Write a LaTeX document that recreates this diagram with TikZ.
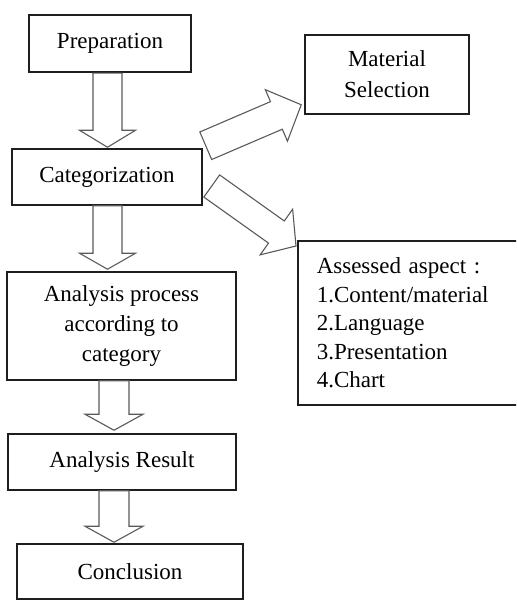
\documentclass[tikz,border=0pt]{standalone}
\usepackage{fontspec}
\setmainfont{Liberation Serif}
\usetikzlibrary{calc}
\definecolor{arrowgray}{HTML}{5A5A5A}
\definecolor{boxline}{HTML}{1E1E1E}
\tikzset{
  box/.style={draw=boxline, line width=0.75pt, fill=white, inner sep=0pt, align=center,
    font=\fontsize{11.5pt}{15pt}\selectfont},
  barrow/.style={draw=arrowgray, line width=0.55pt, fill=white, line join=miter},
}
% block arrow: #1 tail, #2 tip, #3 shaft half width, #4 head half width, #5 head length
\newcommand\blockarrow[5]{%
  \draw[barrow] let \p1=(#1), \p2=(#2),
      \n1={atan2(\y2-\y1,\x2-\x1)}, \n2={veclen(\x2-\x1,\y2-\y1)} in
    ($(\p1)+({\n1+90}:#3)$)
    -- ($(\p1)+({\n1}:{\n2*1pt-#5})+({\n1+90}:#3)$)
    -- ($(\p1)+({\n1}:{\n2*1pt-#5})+({\n1+90}:#4)$)
    -- (\p2)
    -- ($(\p1)+({\n1}:{\n2*1pt-#5})+({\n1-90}:#4)$)
    -- ($(\p1)+({\n1}:{\n2*1pt-#5})+({\n1-90}:#3)$)
    -- ($(\p1)+({\n1-90}:#3)$)
    -- cycle;
}
\begin{document}
\begin{tikzpicture}[x=0.5pt, y=-0.5pt]
\useasboundingbox (0,0) rectangle (516,600);
\clip (0,0) rectangle (516,600);

\node[box, line width=1.1pt, minimum width=81pt, minimum height=28.5pt] (prep) at (110,43.5) {Preparation};
\node[box, minimum width=95pt, minimum height=28pt] (cat) at (107,177) {Categorization};
\node[box, minimum width=114.5pt, minimum height=54pt] (proc) at (121.5,326)
  {Analysis process\\according to\\category};
\node[box, minimum width=114pt, minimum height=28pt] (res) at (122,462) {Analysis Result};
\node[box, minimum width=113pt, minimum height=27.5pt] (concl) at (130,571.5) {Conclusion};
\node[box, minimum width=82pt, minimum height=39.5pt, font=\fontsize{11.5pt}{15.5pt}\selectfont] (mat) at (387,74.5)
  {Material\\Selection};
\node[box, anchor=north west, minimum width=115pt, minimum height=82pt, text width=96pt,
  inner xsep=9.5pt, align=left, font=\fontsize{11.5pt}{14.25pt}\selectfont] (asp) at (297,240)
  {Assessed aspect :\\1.Content/material\\2.Language\\3.Presentation\\4.Chart};

% vertical block arrows
\coordinate (a1s) at ($(prep.south)+(-2.5,0)$);
\coordinate (a1e) at ($(cat.north)+(0.5,-1)$);
\blockarrow{a1s}{a1e}{7.25pt}{14pt}{8.5pt}
\coordinate (a2s) at ($(cat.south)+(0.5,0)$);
\coordinate (a2e) at ($(proc.north)+(-14,-2)$);
\blockarrow{a2s}{a2e}{7.25pt}{14pt}{8pt}
\coordinate (a3s) at ($(proc.south)+(-7.5,0)$);
\coordinate (a3e) at ($(res.north)+(-8,-3)$);
\blockarrow{a3s}{a3e}{7.5pt}{14.5pt}{8pt}
\coordinate (a4s) at ($(res.south)+(-8,0)$);
\coordinate (a4e) at ($(concl.north)+(-16,-1)$);
\blockarrow{a4s}{a4e}{7.5pt}{14.5pt}{8pt}

% diagonal block arrows
\coordinate (d1s) at ($(cat.north east)+(3,-2.5)$);
\coordinate (d1e) at ($(mat.south west)+(-3,-10)$);
\blockarrow{d1s}{d1e}{7.5pt}{14pt}{13.5pt}
\coordinate (d2s) at ($(cat.east)+(9,9)$);
\coordinate (d2e) at ($(asp.north west)+(-1,6)$);
\blockarrow{d2s}{d2e}{6.8pt}{14pt}{12pt}
\end{tikzpicture}
\end{document}
